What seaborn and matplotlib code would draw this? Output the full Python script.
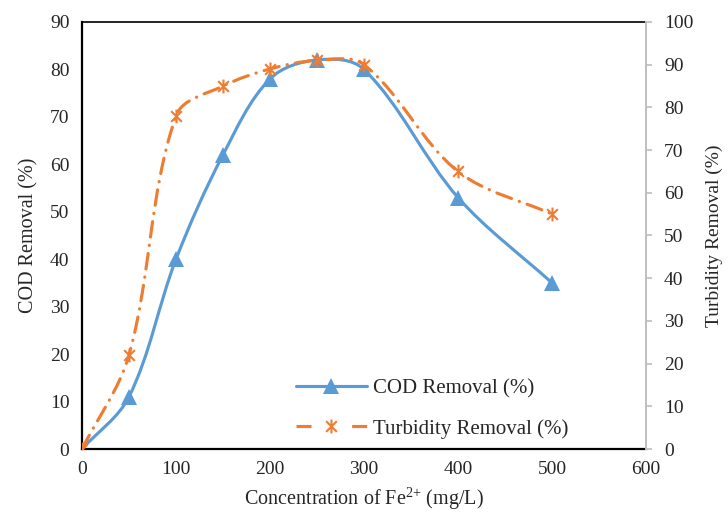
import numpy as np
import pandas as pd
import matplotlib
matplotlib.use("Agg")
import matplotlib.pyplot as plt
import seaborn as sns
from matplotlib.path import Path
from matplotlib.patches import PathPatch
from matplotlib.lines import Line2D

# ---- data ----
concentration = [0, 50, 100, 150, 200, 250, 300, 400, 500]
cod_removal = [0, 11, 40, 62, 78, 82, 80, 53, 35]
turbidity_removal = [0, 22, 78, 85, 89, 91, 90, 65, 55]
x_ticks = [0, 100, 200, 300, 400, 500, 600]
left_ticks = list(range(0, 91, 10))
right_ticks = list(range(0, 101, 10))

sns.set_style("white")
plt.rcParams["font.family"] = ["Liberation Serif", "DejaVu Serif"]
plt.rcParams["mathtext.fontset"] = "custom"
plt.rcParams["mathtext.rm"] = "Liberation Serif"

BLUE = "#5B9BD5"
ORANGE = "#ED7D31"

df = pd.DataFrame({"x": concentration, "cod": cod_removal, "turb": turbidity_removal})

# star marker (X with vertical bar), like Excel's star
star = Path([(-1, -1), (1, 1), (-1, 1), (1, -1), (0, -1.3), (0, 1.3)],
            [Path.MOVETO, Path.LINETO, Path.MOVETO, Path.LINETO, Path.MOVETO, Path.LINETO])


def smooth_path(x, y, sx, sy):
    """Excel-like smoothed Bezier through the points; tangents computed in
    pixel-like units (sx, sy = px per data unit) and scaled by segment length."""
    pts = np.column_stack([np.asarray(x, float) * sx, np.asarray(y, float) * sy])
    n = len(pts)
    verts = [pts[0]]
    codes = [Path.MOVETO]

    def tangent(i):
        a = pts[i - 1] if i > 0 else pts[i]
        b = pts[i + 1] if i < n - 1 else pts[i]
        d = b - a
        return d / np.hypot(*d)

    for i in range(n - 1):
        p1, p2 = pts[i], pts[i + 1]
        L = np.hypot(*(p2 - p1)) / 3.0
        verts += [p1 + tangent(i) * L, p2 - tangent(i + 1) * L, p2]
        codes += [Path.CURVE4] * 3
    v = np.array(verts)
    v[:, 0] /= sx
    v[:, 1] /= sy
    return Path(v, codes)


fig = plt.figure(figsize=(7.28, 5.18), dpi=100)
ax = fig.add_axes([82 / 728, 1 - 449 / 518, (646 - 82) / 728, (449 - 22) / 518])
ax2 = ax.twinx()

SX = 564 / 600
# COD (primary axis)
p1 = PathPatch(smooth_path(df["x"], df["cod"], SX, 427 / 90), fill=False, edgecolor=BLUE, lw=2.25)
p1.set_capstyle("round")
ax.add_patch(p1)
sns.lineplot(data=df, x="x", y="cod", ax=ax, color=BLUE, linestyle="none",
             marker="^", markersize=11, markeredgecolor=BLUE, markeredgewidth=0)

# Turbidity (secondary axis)
p2 = PathPatch(smooth_path(df["x"], df["turb"], SX, 427 / 100), fill=False, edgecolor=ORANGE,
               lw=2.25, linestyle=(0, (5, 2.6, 0.1, 2.6)))
p2.set_capstyle("round")
ax2.add_patch(p2)
sns.lineplot(data=df, x="x", y="turb", ax=ax2, color=ORANGE, linestyle="none",
             marker=star, markersize=10, markeredgecolor=ORANGE, markerfacecolor="none",
             markeredgewidth=1.5)

fs = 14
ax.set_xlim(0, 600)
ax.set_ylim(0, 90)
ax2.set_ylim(0, 100)
ax.set_xticks(x_ticks)
ax.set_yticks(left_ticks)
ax2.set_yticks(right_ticks)
ax.set_xticklabels([str(v) for v in x_ticks], fontsize=fs)
ax.set_yticklabels([str(v) for v in left_ticks], fontsize=fs)
ax2.set_yticklabels([str(v) for v in right_ticks], fontsize=fs)
ax.tick_params(axis="both", length=0, pad=9)
ax2.tick_params(axis="y", length=4, width=1.2, color="#BFBFBF", direction="out", pad=9)

ax.set_xlabel(r"Concentration of Fe$^{2{+}}$ (mg/L)", fontsize=14.5, labelpad=5)
ax.set_ylabel("COD Removal (%)", fontsize=14.5, labelpad=8)
ax2.set_ylabel("Turbidity Removal (%)", fontsize=14, labelpad=9)

for a in (ax, ax2):
    for s in a.spines.values():
        s.set_visible(False)
for name, lw in (("left", 1.6), ("bottom", 1.6), ("top", 1.2)):
    ax.spines[name].set_visible(True)
    ax.spines[name].set_color("black")
    ax.spines[name].set_linewidth(lw)
ax2.spines["right"].set_visible(True)
ax2.spines["right"].set_color("#BFBFBF")
ax2.spines["right"].set_linewidth(1.4)

handles = [
    Line2D([], [], color=BLUE, lw=2.25, marker="^", markersize=11, markeredgewidth=0),
    Line2D([], [], color=ORANGE, lw=2.25, linestyle=(0, (4.8, 13)), marker=star, markersize=10,
           markerfacecolor="none", markeredgewidth=1.5),
]
labels = ["COD Removal (%)", "Turbidity Removal (%)"]
ax2.legend(handles, labels, loc="upper left", bbox_to_anchor=(0.379, 0.165), frameon=False,
           borderpad=0, borderaxespad=0, fontsize=15, handlelength=3.4, handletextpad=0.3,
           labelspacing=1.0)

fig.savefig("out.png", dpi=100)
